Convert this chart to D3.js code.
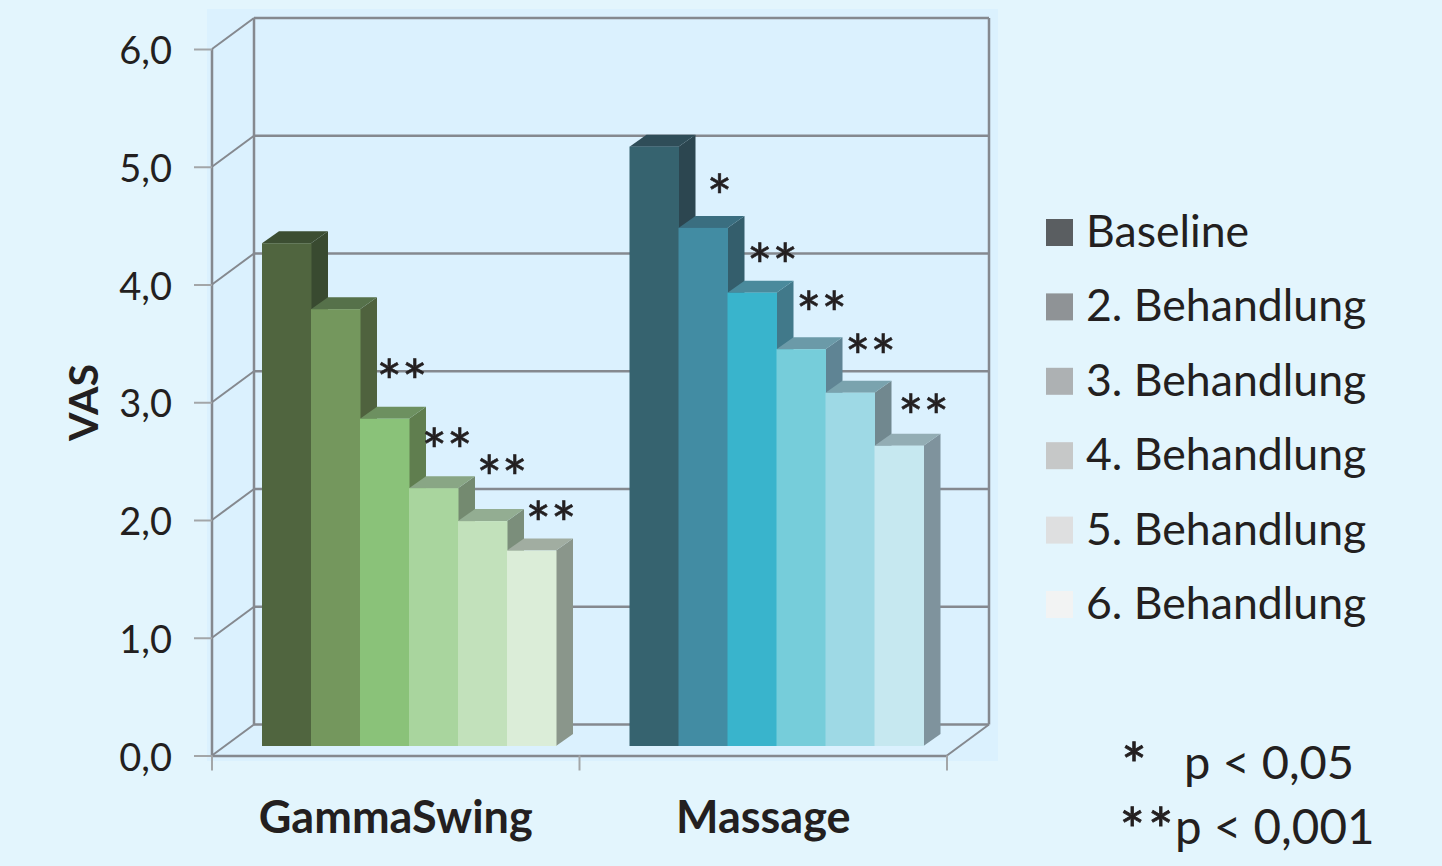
<!DOCTYPE html>
<html lang="de">
<head>
<meta charset="utf-8">
<title>VAS GammaSwing und Massage</title>
<script src="https://cdn.jsdelivr.net/npm/d3@7/dist/d3.min.js"></script>
<style>
  html, body { margin: 0; padding: 0; background: #e3f5fd; overflow: hidden; }
  svg { display: block; }
  text { font-family: Lato, "Noto Sans", sans-serif; fill: #231f20; }
</style>
</head>
<body>
<svg id="chart" width="1442" height="866"></svg>
<script>
// Chart values
const categories = ["GammaSwing", "Massage"];
const sessions = ["Baseline", "2. Behandlung", "3. Behandlung", "4. Behandlung", "5. Behandlung", "6. Behandlung"];
const gammaSwingValues = [4.27, 3.71, 2.78, 2.19, 1.91, 1.66];
const massageValues = [5.09, 4.40, 3.85, 3.37, 3.00, 2.55];
const gammaSwingMarks = ["", "", "**", "**", "**", "**"];
const massageMarks = ["", "*", "**", "**", "**", "**"];
const yTicks = [0, 1, 2, 3, 4, 5, 6];
const notes = ["p < 0,05", "p < 0,001"];

// Colours per group: front, side and top face of each bar
const palette = {
  GammaSwing: {
    front: ["#50653f", "#74975d", "#8ac279", "#a9d59e", "#c2e1bb", "#dbedd8"],
    side:  ["#394a30", "#4f623e", "#607e4f", "#748a70", "#7b8e7b", "#8a968b"],
    top:   ["#3c4e32", "#56714a", "#6d9060", "#89a685", "#93ad92", "#a1ada1"]
  },
  Massage: {
    front: ["#36636f", "#428ca3", "#39b4cc", "#76cdda", "#9ed9e5", "#c6e8f0"],
    side:  ["#2c4650", "#345e6c", "#41798a", "#5f8494", "#71888f", "#7f939d"],
    top:   ["#2f4d58", "#3a6e80", "#4a8a9c", "#6b9aa8", "#7aa3ae", "#93adb4"]
  }
};
const swatches = ["#5a5e61", "#8f9396", "#adb1b3", "#c6c8c8", "#dedfe0", "#f2f3f3"];

// Layout of the pseudo-3D box
const wall = { dx: 42, dy: -31 };          // front plane to back wall
const barShift = { dx: 13, dy: -9.5 };     // front plane to bar fronts
const barDepth = { dx: 17, dy: -12 };
const groupInset = 50, groupWidth = 294;
const gridColor = "#85898f", tickColor = "#a3a6a8";

// Star placement relative to each bar's top-left corner
const starOffsets = {
  GammaSwing: [null, null, [42, -49], [38, -49], [44, -55], [44, -39]],
  Massage: [null, [41, -43], [45, -39], [45, -47], [45, -48], [49, -41]]
};
const starSize = 60, starRise = 0.57;

const svg = d3.select("#chart");
const x = d3.scaleBand().domain(categories).range([212, 947]);
const xInner = d3.scaleBand().domain(sessions).range([0, groupWidth]);
const y = d3.scaleLinear().domain([0, 6]).range([755.5, 49]);
const values = { GammaSwing: gammaSwingValues, Massage: massageValues };
const marks = { GammaSwing: gammaSwingMarks, Massage: massageMarks };
const comma = v => d3.format(".1f")(v).replace(".", ",");

// Plot backdrop
svg.append("rect").attr("x", 207).attr("y", 9).attr("width", 791).attr("height", 752).attr("fill", "#dbf1fe");

// Back wall gridlines, side wall diagonals and box edges
const frame = svg.append("g").attr("fill", "none").attr("stroke", gridColor);
const [xL, xR] = x.range();
frame.selectAll(".grid").data(yTicks).join("line").attr("class", "grid")
  .attr("x1", xL + wall.dx).attr("x2", xR + wall.dx)
  .attr("y1", d => y(d) + wall.dy).attr("y2", d => y(d) + wall.dy)
  .attr("stroke-width", 2.5);
frame.selectAll(".diag").data(yTicks).join("line").attr("class", "diag")
  .attr("x1", xL).attr("x2", xL + wall.dx)
  .attr("y1", d => y(d)).attr("y2", d => y(d) + wall.dy)
  .attr("stroke-width", 2);
frame.selectAll(".edge").data([xL, xL + wall.dx, xR + wall.dx]).join("line").attr("class", "edge")
  .attr("x1", d => d).attr("x2", d => d)
  .attr("y1", (d, i) => y(6) + (i ? wall.dy : 0))
  .attr("y2", (d, i) => y(0) + (i ? wall.dy : 0))
  .attr("stroke-width", 2.5);
frame.append("line").attr("x1", xR).attr("x2", xR + wall.dx)
  .attr("y1", y(0)).attr("y2", y(0) + wall.dy).attr("stroke-width", 2);
frame.append("line").attr("x1", xL).attr("x2", xR)
  .attr("y1", y(0) + 0.5).attr("y2", y(0) + 0.5).attr("stroke-width", 2.5);

// Value axis
const yAxis = d3.axisLeft(y).tickValues(yTicks).tickSize(18).tickPadding(22).tickFormat(comma);
const yAxisG = svg.append("g").attr("transform", `translate(${xL},0)`).call(yAxis);
yAxisG.select(".domain").remove();
yAxisG.selectAll(".tick line").attr("stroke", tickColor).attr("stroke-width", 2);
yAxisG.selectAll(".tick text").attr("font-size", 38).attr("font-family", null)
  .attr("y", 1).attr("dy", "0.36em").attr("fill", "#231f20");
yAxisG.attr("font-family", null);

// Category ticks at the band edges
const catEdges = categories.map(c => x(c)).concat(xR);
svg.selectAll(".cat-tick").data(catEdges).join("line").attr("class", "cat-tick")
  .attr("x1", d => d).attr("x2", d => d).attr("y1", y(0)).attr("y2", y(0) + 15)
  .attr("stroke", tickColor).attr("stroke-width", 2);

// Bars, painted left to right so every bar covers its neighbour's side face
const pts = a => a.map(p => p.join(",")).join(" ");
const base = y(0) + barShift.dy;
const barY = v => y(v) + barShift.dy;
const barData = categories.flatMap(c => sessions.map((s, i) => ({ c, s, i, v: values[c][i] })));
const bars = svg.selectAll(".bar").data(barData).join("g").attr("class", "bar");
const bx = d => x(d.c) + groupInset + xInner(d.s);
const bw = xInner.bandwidth();
bars.append("polygon").attr("fill", d => palette[d.c].side[d.i]).attr("points", d => {
  const r = bx(d) + bw, t = barY(d.v);
  return pts([[r, t], [r + barDepth.dx, t + barDepth.dy], [r + barDepth.dx, base + barDepth.dy], [r, base]]);
});
bars.append("polygon").attr("fill", d => palette[d.c].top[d.i]).attr("points", d => {
  const l = bx(d), r = l + bw, t = barY(d.v);
  return pts([[l, t], [l + barDepth.dx, t + barDepth.dy], [r + barDepth.dx, t + barDepth.dy], [r, t]]);
});
bars.append("rect").attr("fill", d => palette[d.c].front[d.i])
  .attr("x", bx).attr("y", d => barY(d.v)).attr("width", bw + 0.5).attr("height", d => base - barY(d.v));

// Significance stars
const starData = barData.filter(d => marks[d.c][d.i]);
svg.selectAll(".star").data(starData).join("text").attr("class", "star")
  .attr("x", d => bx(d) + starOffsets[d.c][d.i][0])
  .attr("y", d => barY(d.v) + starOffsets[d.c][d.i][1] + starSize * starRise)
  .attr("text-anchor", "middle").attr("font-size", starSize)
  .attr("stroke", "#231f20").attr("stroke-width", 0.6)
  .text(d => marks[d.c][d.i]);

// Category and value titles
svg.selectAll(".cat-label").data(categories).join("text").attr("class", "cat-label")
  .attr("x", d => x(d) + x.bandwidth() / 2).attr("y", 833)
  .attr("text-anchor", "middle").attr("font-size", 45).attr("font-weight", 700)
  .text(d => d);
svg.append("text").attr("transform", "translate(98,402.5) rotate(-90)")
  .attr("text-anchor", "middle").attr("font-size", 41).attr("font-weight", 700).text("VAS");

// Legend
const legendRow = d3.scalePoint().domain(sessions).range([219, 591]);
const legend = svg.selectAll(".legend").data(sessions).join("g").attr("class", "legend")
  .attr("transform", d => `translate(1046,${legendRow(d)})`);
legend.append("rect").attr("width", 27).attr("height", 27).attr("fill", (d, i) => swatches[i]);
legend.append("text").attr("x", 40).attr("y", 28).attr("font-size", 44.6).text(d => d);

// Significance key
const keyStarSize = 60;
svg.append("text").attr("x", 1134).attr("y", 753 + keyStarSize * starRise)
  .attr("text-anchor", "middle").attr("font-size", keyStarSize)
  .attr("stroke", "#231f20").attr("stroke-width", 0.8).text("*");
svg.append("text").attr("x", 1184).attr("y", 779).attr("font-size", 47).text(notes[0]);
svg.append("text").attr("x", 1148).attr("y", 818 + keyStarSize * starRise)
  .attr("text-anchor", "middle").attr("font-size", keyStarSize).attr("letter-spacing", 3)
  .attr("stroke", "#231f20").attr("stroke-width", 0.8).text("**");
svg.append("text").attr("x", 1175).attr("y", 844).attr("font-size", 47.5).text(notes[1]);
</script>
</body>
</html>
